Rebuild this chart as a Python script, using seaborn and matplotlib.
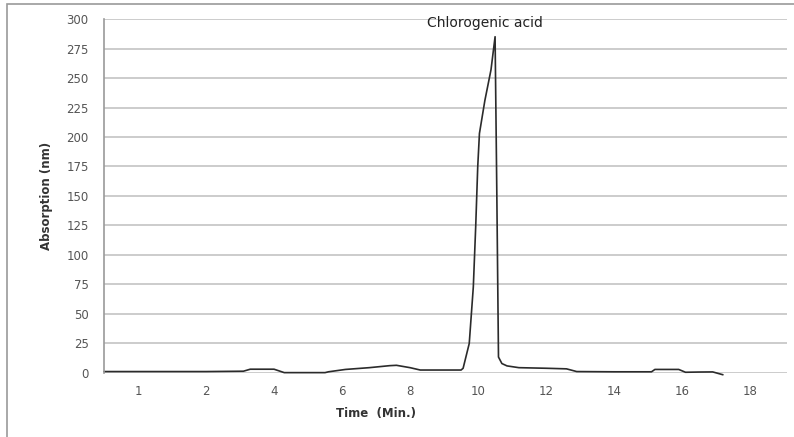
import matplotlib
matplotlib.use("Agg")
import matplotlib.pyplot as plt
import seaborn as sns
import pandas as pd
from matplotlib.patches import Rectangle

# Chromatogram trace: retention time (min) and detector response
time_min = [-1.0, 0.0, 1.0, 2.0, 3.1, 3.3, 4.0, 4.3, 5.5, 5.6, 6.1, 6.8, 7.4, 7.6,
            8.0, 8.3, 9.0, 9.5, 9.56, 9.74, 9.86, 9.93, 9.99, 10.04, 10.2, 10.38,
            10.5, 10.55, 10.6, 10.7, 10.85, 11.2, 12.0, 12.6, 12.9, 14.0, 15.1,
            15.2, 15.9, 16.1, 16.5, 16.9, 17.2]
absorption = [1.2, 1.2, 1.2, 1.2, 1.5, 3.2, 3.2, 0.3, 0.3, 1.0, 3.0, 4.5, 6.2, 6.5,
              4.5, 2.5, 2.5, 2.5, 4.0, 25, 73, 124, 175, 203, 231, 257,
              285, 155, 13.5, 8.0, 6.0, 4.5, 4.0, 3.5, 1.2, 1.0, 1.0,
              3.0, 3.0, 0.6, 0.8, 0.9, -1.5]

tick_pos = [0, 2, 4, 6, 8, 10, 12, 14, 16, 18]
tick_labels = ["1", "2", "4", "6", "8", "10", "12", "14", "16", "18"]
y_ticks = list(range(0, 301, 25))

peak_name = "Chlorogenic acid"

df = pd.DataFrame({"time": time_min, "abs": absorption})

sns.set_theme(style="white")
plt.rcParams["font.family"] = ["DejaVu Sans"]

fig = plt.figure(figsize=(7.94, 4.37), dpi=100)
ax = fig.add_axes([0.131, 0.1465, 0.860, 0.81])

sns.lineplot(data=df, x="time", y="abs", ax=ax, color="#2b2b2b",
             linewidth=1.2, clip_on=False)

ax.set_xlim(-1.0, 19.08)
ax.set_ylim(0, 300)
ax.set_xticks(tick_pos)
ax.set_xticklabels(tick_labels)
ax.set_yticks(y_ticks)
ax.yaxis.grid(True, color="#cccccc", linewidth=1.4)
ax.xaxis.grid(False)
ax.set_axisbelow(True)

for side in ("top", "right", "bottom"):
    ax.spines[side].set_visible(False)
ax.spines["left"].set_color("#9a9a9a")
ax.spines["left"].set_linewidth(1.2)

ax.tick_params(axis="y", length=5, width=1.2, color="#cccccc",
               labelsize=8.5, labelcolor="#555555", pad=6)
ax.tick_params(axis="x", length=2, width=1, color="#bbbbbb",
               labelsize=8.5, labelcolor="#555555", pad=7)

ax.set_xlabel("Time  (Min.)", fontsize=8.5, fontweight="bold", color="#333333")
ax.xaxis.set_label_coords(0.398, -0.095)
ax.set_ylabel("Absorption (nm)", fontsize=8.5, fontweight="bold", color="#333333")
ax.yaxis.set_label_coords(-0.075, 0.5)

peak_idx = absorption.index(max(absorption))
ax.text(time_min[peak_idx] - 0.3, 296.5, peak_name, ha="center", va="center",
        fontsize=10, color="#222222", clip_on=False)

fig.patches.append(Rectangle((0.009, -0.05), 1.2, 1.041, transform=fig.transFigure,
                             fill=False, edgecolor="#9a9a9a", linewidth=1.2))

fig.savefig("out.png", dpi=100, facecolor="white")
